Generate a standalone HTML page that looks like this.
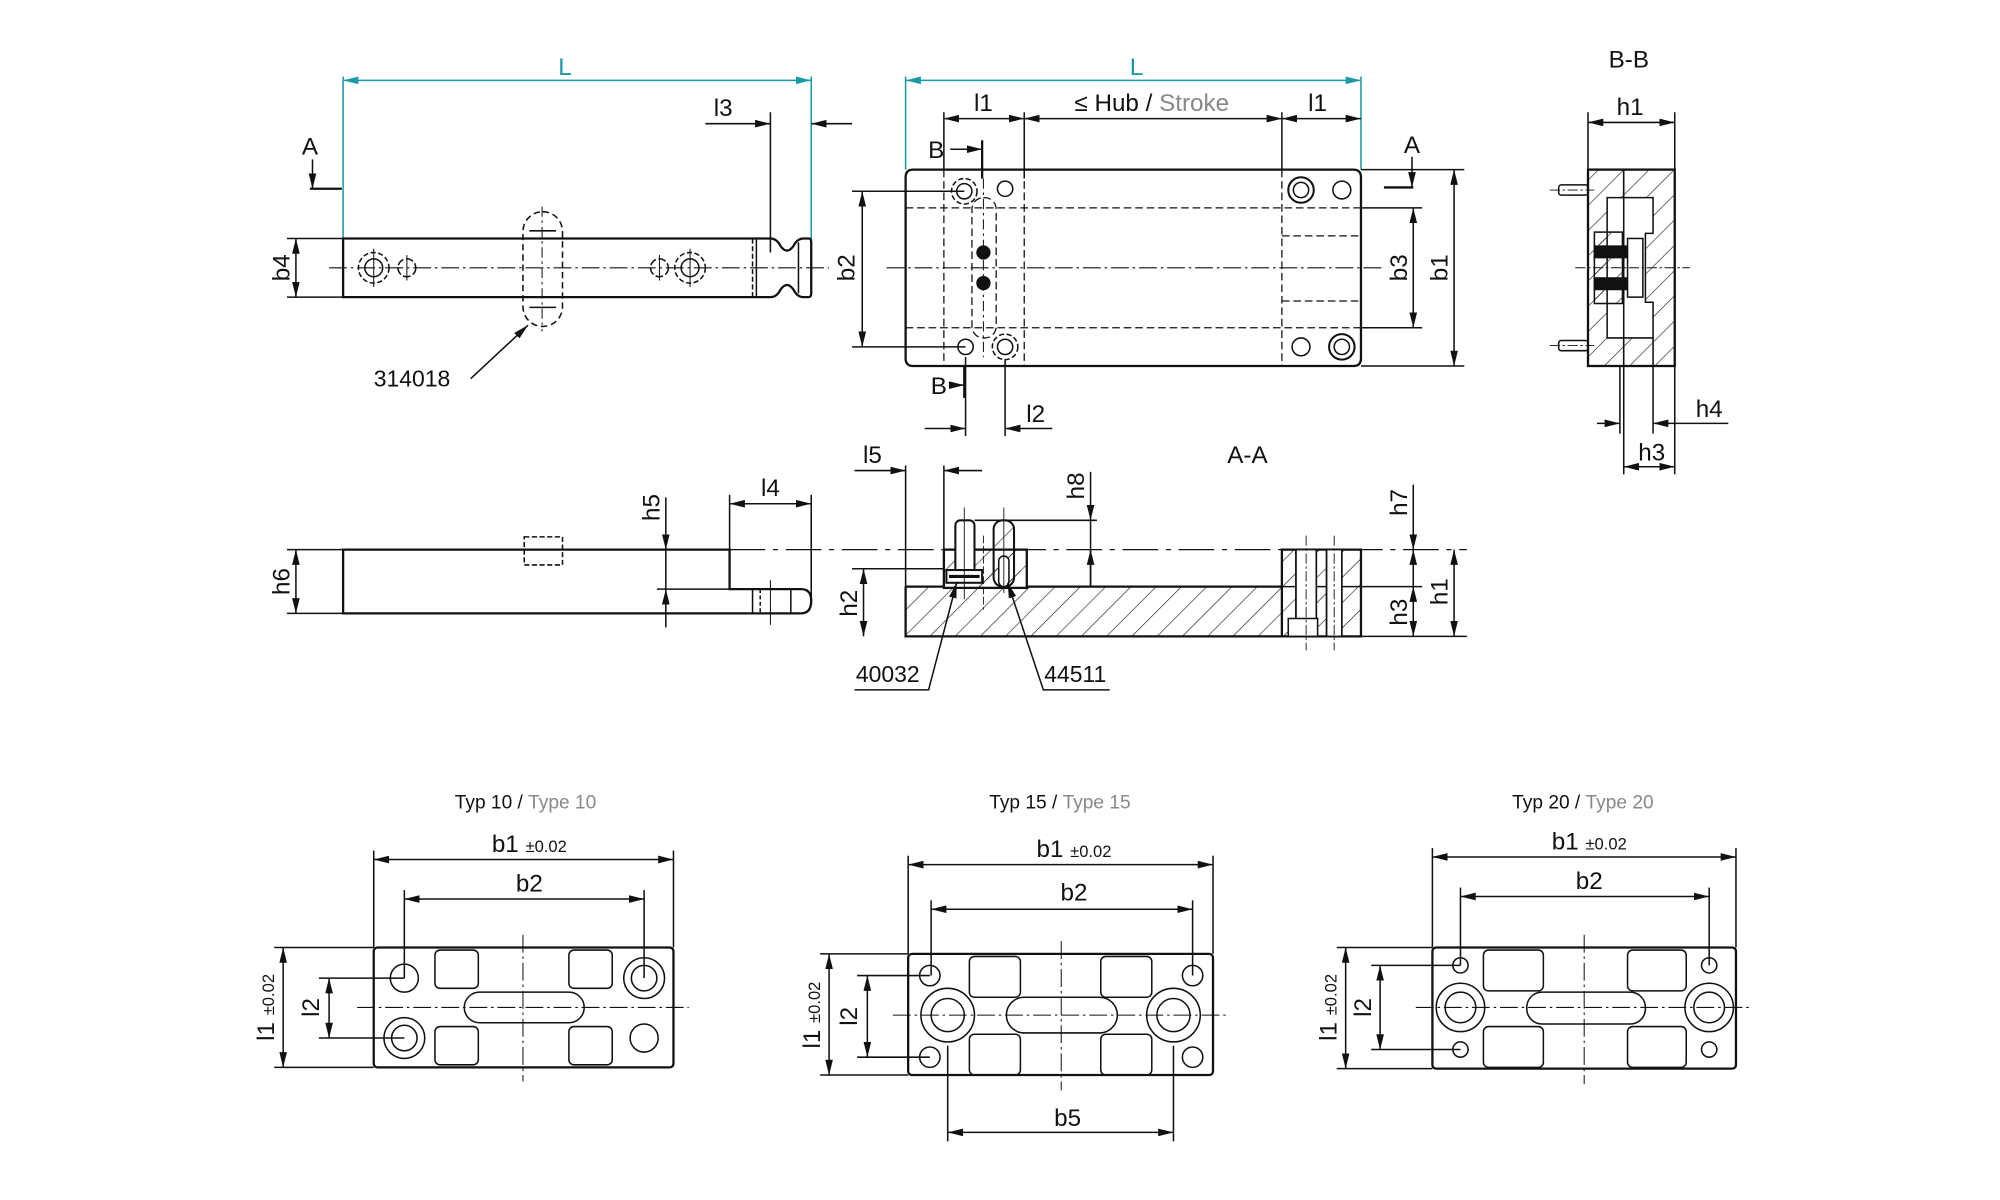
<!DOCTYPE html>
<html><head><meta charset="utf-8"><style>
html,body{margin:0;padding:0;background:#fff;}
svg{display:block;}
text{font-family:"Liberation Sans",sans-serif;fill:#111;}
</style></head><body>
<svg width="2000" height="1200" viewBox="0 0 1568 941" preserveAspectRatio="none" xmlns="http://www.w3.org/2000/svg">
<defs>
<marker id="a" viewBox="0 0 12 6" refX="12" refY="3" markerWidth="12" markerHeight="6" markerUnits="userSpaceOnUse" orient="auto-start-reverse"><path d="M0,0L12,3L0,6z" fill="#111"/></marker>
<marker id="t" viewBox="0 0 12 6" refX="12" refY="3" markerWidth="12" markerHeight="6" markerUnits="userSpaceOnUse" orient="auto-start-reverse"><path d="M0,0L12,3L0,6z" fill="#1a9aa8"/></marker>
<pattern id="h" width="14" height="14" patternUnits="userSpaceOnUse" patternTransform="rotate(45)"><line x1="0" y1="0" x2="0" y2="14" stroke="#222" stroke-width="1"/></pattern>
</defs>
<g fill="none" stroke="#111" stroke-width="1.2">

<!-- ============ TOP LEFT VIEW ============ -->
<line x1="269" y1="60" x2="269" y2="187" stroke="#1a9aa8"/>
<line x1="636" y1="60" x2="636" y2="210" stroke="#1a9aa8"/>
<line x1="269" y1="63" x2="636" y2="63" stroke="#1a9aa8" marker-start="url(#t)" marker-end="url(#t)"/>
<path d="M269,187 H604 Q609,187 612,193 Q617,200 622,193 Q625,187 630,187 H634 Q636,187 636,190 V230 Q636,233 634,233 H630 Q625,233 622,227 Q617,220 612,227 Q609,233 604,233 H269 Z" stroke-width="1.8"/>
<line x1="590" y1="187" x2="590" y2="233" stroke-dasharray="4,2"/>
<line x1="593" y1="187" x2="593" y2="233"/>
<line x1="626" y1="190" x2="626" y2="230"/>
<line x1="258" y1="210" x2="650" y2="210" stroke-dasharray="14,3,2,3" stroke-width="0.9"/>
<rect x="410" y="166" width="31" height="90" rx="15.5" stroke-dasharray="5,3"/>
<line x1="425" y1="162" x2="425" y2="260" stroke-dasharray="8,3,2,3" stroke-width="0.8"/>
<line x1="415" y1="181" x2="436" y2="181"/><line x1="415" y1="241" x2="436" y2="241"/>
<circle cx="293" cy="210" r="12" stroke-dasharray="4,2"/><circle cx="293" cy="210" r="7"/>
<circle cx="319" cy="210" r="7" stroke-dasharray="6,2"/>
<circle cx="541" cy="210" r="12" stroke-dasharray="4,2"/><circle cx="541" cy="210" r="7"/>
<circle cx="517" cy="210" r="7" stroke-dasharray="6,2"/>
<line x1="293" y1="195" x2="293" y2="225" stroke-width="0.8"/><line x1="319" y1="200" x2="319" y2="220" stroke-width="0.8"/>
<line x1="541" y1="195" x2="541" y2="225" stroke-width="0.8"/><line x1="517" y1="200" x2="517" y2="220" stroke-width="0.8"/>
<!-- l3 -->
<line x1="604" y1="88" x2="604" y2="198"/>
<line x1="553" y1="97" x2="604" y2="97" marker-end="url(#a)"/>
<line x1="668" y1="97" x2="636" y2="97" marker-end="url(#a)"/>
<!-- A marker -->
<line x1="245" y1="125" x2="245" y2="148" marker-end="url(#a)"/>
<line x1="243" y1="148" x2="268" y2="148" stroke-width="1.8"/>
<!-- b4 -->
<line x1="225" y1="187" x2="269" y2="187"/><line x1="225" y1="233" x2="269" y2="233"/>
<line x1="232" y1="187" x2="232" y2="233" marker-start="url(#a)" marker-end="url(#a)"/>
<line x1="369" y1="297" x2="414" y2="255" marker-end="url(#a)"/>

<!-- ============ TOP MIDDLE VIEW ============ -->
<line x1="710" y1="60" x2="710" y2="133" stroke="#1a9aa8"/>
<line x1="1067" y1="60" x2="1067" y2="133" stroke="#1a9aa8"/>
<line x1="710" y1="63" x2="1067" y2="63" stroke="#1a9aa8" marker-start="url(#t)" marker-end="url(#t)"/>
<line x1="740" y1="88" x2="740" y2="133"/><line x1="803" y1="88" x2="803" y2="140"/><line x1="1005" y1="88" x2="1005" y2="133"/>
<line x1="740" y1="93" x2="803" y2="93" marker-start="url(#a)" marker-end="url(#a)"/>
<line x1="803" y1="93" x2="1005" y2="93" marker-start="url(#a)" marker-end="url(#a)"/>
<line x1="1005" y1="93" x2="1067" y2="93" marker-start="url(#a)" marker-end="url(#a)"/>
<path d="M716,133 H1061 Q1067,133 1067,139 V281 Q1067,287 1061,287 H716 Q710,287 710,281 V139 Q710,133 716,133 Z" stroke-width="1.8"/>
<line x1="695" y1="210" x2="1085" y2="210" stroke-dasharray="14,3,2,3" stroke-width="0.9"/>
<g stroke-dasharray="6,3" stroke-width="1">
<line x1="710" y1="163" x2="1067" y2="163"/><line x1="710" y1="257" x2="1067" y2="257"/>
<line x1="1005" y1="185" x2="1067" y2="185"/><line x1="1005" y1="236" x2="1067" y2="236"/>
<line x1="740" y1="133" x2="740" y2="287"/><line x1="803" y1="133" x2="803" y2="287"/><line x1="1005" y1="133" x2="1005" y2="287"/>
<rect x="762" y="155" width="19" height="110" rx="9"/>
</g>
<line x1="771" y1="140" x2="771" y2="280" stroke-dasharray="8,3,2,3" stroke-width="0.8"/>
<circle cx="771" cy="198" r="5" fill="#111"/><circle cx="771" cy="222" r="5" fill="#111"/>
<circle cx="756" cy="150" r="10" stroke-dasharray="4,2"/><circle cx="756" cy="150" r="6"/>
<circle cx="788" cy="148" r="6"/>
<circle cx="757" cy="272" r="6"/>
<circle cx="788" cy="272" r="10" stroke-dasharray="4,2"/><circle cx="788" cy="272" r="6"/>
<circle cx="1020" cy="149" r="10" stroke-width="1.6"/><circle cx="1020" cy="149" r="6"/>
<circle cx="1052" cy="149" r="7"/>
<circle cx="1020" cy="272" r="7"/>
<circle cx="1052" cy="272" r="10" stroke-width="1.6"/><circle cx="1052" cy="272" r="6"/>
<!-- B markers -->
<line x1="745" y1="117" x2="770" y2="117" marker-end="url(#a)"/>
<line x1="770" y1="110" x2="770" y2="140" stroke-width="1.8"/>
<line x1="746" y1="302" x2="756" y2="302" marker-end="url(#a)"/>
<line x1="756" y1="287" x2="756" y2="312" stroke-width="1.8"/>
<!-- A right -->
<line x1="1107" y1="123" x2="1107" y2="147" marker-end="url(#a)"/>
<line x1="1085" y1="147" x2="1108" y2="147" stroke-width="1.8"/>
<!-- b2 -->
<line x1="668" y1="150" x2="756" y2="150"/><line x1="668" y1="272" x2="757" y2="272"/>
<line x1="676" y1="150" x2="676" y2="272" marker-start="url(#a)" marker-end="url(#a)"/>
<!-- b3 b1 -->
<line x1="1067" y1="163" x2="1115" y2="163"/><line x1="1067" y1="257" x2="1115" y2="257"/>
<line x1="1108" y1="163" x2="1108" y2="257" marker-start="url(#a)" marker-end="url(#a)"/>
<line x1="1067" y1="133" x2="1148" y2="133"/><line x1="1067" y1="287" x2="1148" y2="287"/>
<line x1="1140" y1="133" x2="1140" y2="287" marker-start="url(#a)" marker-end="url(#a)"/>
<!-- l2 -->
<line x1="757" y1="280" x2="757" y2="342"/><line x1="788" y1="282" x2="788" y2="342"/>
<line x1="725" y1="336" x2="757" y2="336" marker-end="url(#a)"/>
<line x1="825" y1="336" x2="788" y2="336" marker-end="url(#a)"/>

<!-- ============ B-B ============ -->
<rect x="1245" y="133" width="68" height="154" stroke-width="1.8"/>
<path d="M1273,133 H1313 V287 H1273 V265 H1296 V237 H1290 V183 H1296 V155 H1273 Z" fill="url(#h)"/>
<path d="M1245,133 H1273 V155 H1260 V265 H1273 V287 H1245 Z" fill="url(#h)"/>
<rect x="1250" y="182" width="22" height="56" fill="url(#h)"/>
<rect x="1250" y="193" width="26" height="9" fill="#111"/><rect x="1250" y="218" width="26" height="9" fill="#111"/>
<rect x="1276" y="187" width="12" height="46" fill="#fff"/>
<line x1="1273" y1="133" x2="1273" y2="287"/>
<rect x="1222" y="145" width="23" height="8" rx="2"/><rect x="1222" y="267" width="23" height="8" rx="2"/>
<line x1="1215" y1="149" x2="1250" y2="149" stroke-width="0.7" stroke-dasharray="8,2,2,2"/>
<line x1="1215" y1="271" x2="1250" y2="271" stroke-width="0.7" stroke-dasharray="8,2,2,2"/>
<line x1="1235" y1="210" x2="1325" y2="210" stroke-width="0.8" stroke-dasharray="8,2,2,2"/>
<line x1="1245" y1="88" x2="1245" y2="133"/><line x1="1313" y1="88" x2="1313" y2="133"/>
<line x1="1245" y1="96" x2="1313" y2="96" marker-start="url(#a)" marker-end="url(#a)"/>
<line x1="1270" y1="287" x2="1270" y2="340"/><line x1="1296" y1="265" x2="1296" y2="340"/>
<line x1="1273" y1="287" x2="1273" y2="372"/><line x1="1313" y1="287" x2="1313" y2="372"/>
<line x1="1252" y1="332" x2="1270" y2="332" marker-end="url(#a)"/>
<line x1="1355" y1="332" x2="1296" y2="332" marker-end="url(#a)"/>
<line x1="1273" y1="366" x2="1313" y2="366" marker-start="url(#a)" marker-end="url(#a)"/>

<!-- ============ BOTTOM LEFT SIDE ============ -->
<path d="M269,431 H572 V462 H628 Q636,462 636,471 Q636,481 628,481 H269 Z" stroke-width="1.8"/>
<line x1="590" y1="462" x2="590" y2="481"/><line x1="596" y1="462" x2="596" y2="481" stroke-dasharray="3,2"/><line x1="620" y1="462" x2="620" y2="481"/>
<line x1="604" y1="455" x2="604" y2="490" stroke-width="0.8"/>
<rect x="411" y="421" width="30" height="22" stroke-dasharray="4,2"/>
<line x1="572" y1="431" x2="1150" y2="431" stroke-dasharray="28,6,4,6" stroke-width="1"/>
<line x1="572" y1="388" x2="572" y2="431"/><line x1="636" y1="388" x2="636" y2="470"/>
<line x1="572" y1="395" x2="636" y2="395" marker-start="url(#a)" marker-end="url(#a)"/>
<line x1="515" y1="462" x2="572" y2="462"/>
<line x1="522" y1="390" x2="522" y2="431" marker-end="url(#a)"/>
<line x1="522" y1="492" x2="522" y2="462" marker-end="url(#a)"/>
<line x1="522" y1="431" x2="522" y2="462"/>
<line x1="225" y1="431" x2="269" y2="431"/><line x1="225" y1="481" x2="269" y2="481"/>
<line x1="232" y1="431" x2="232" y2="481" marker-start="url(#a)" marker-end="url(#a)"/>

<!-- ============ A-A ============ -->
<path d="M710,460 H740 V447 H805 V460 H1005 V499 H710 Z" fill="url(#h)" stroke="none"/>
<rect x="1005" y="431" width="62" height="68" fill="url(#h)" stroke="none"/>
<rect x="740" y="431" width="65" height="30" fill="url(#h)" stroke="none"/>
<path d="M710,460 H740 M805,460 H1005 M710,460 V499 H1067 V431 H1005 V499" stroke-width="1.8"/>
<rect x="740" y="431" width="65" height="30" stroke-width="1.8"/>
<line x1="1005" y1="460" x2="1067" y2="460"/>
<rect x="1016" y="431" width="16" height="68" fill="#fff"/><rect x="1040" y="431" width="12" height="68" fill="#fff"/>
<line x1="1016" y1="431" x2="1016" y2="499"/><line x1="1032" y1="431" x2="1032" y2="499"/>
<line x1="1040" y1="431" x2="1040" y2="499"/><line x1="1052" y1="431" x2="1052" y2="499"/>
<rect x="1010" y="485" width="23" height="14" fill="#fff"/>
<line x1="1024" y1="420" x2="1024" y2="510" stroke-width="0.7" stroke-dasharray="8,2,2,2"/>
<line x1="1046" y1="420" x2="1046" y2="510" stroke-width="0.7" stroke-dasharray="8,2,2,2"/>
<rect x="749" y="408" width="15" height="48" rx="4" fill="#fff" stroke-width="1.6"/>
<rect x="742" y="447" width="28" height="10" fill="#fff" stroke-width="1.6"/>
<line x1="744" y1="452" x2="768" y2="452" stroke-width="2.5"/>
<line x1="756" y1="398" x2="756" y2="470" stroke-width="0.7"/>
<rect x="779" y="408" width="16" height="52" rx="7" fill="url(#h)" stroke-width="1.6"/>
<rect x="783" y="436" width="8" height="24" rx="4" fill="#fff"/>
<line x1="787" y1="398" x2="787" y2="465" stroke-width="0.7"/>
<line x1="771" y1="420" x2="771" y2="478" stroke-width="0.7" stroke-dasharray="6,2"/>
<line x1="710" y1="365" x2="710" y2="460"/><line x1="740" y1="365" x2="740" y2="447"/>
<line x1="670" y1="369" x2="710" y2="369" marker-end="url(#a)"/>
<line x1="770" y1="369" x2="740" y2="369" marker-end="url(#a)"/>
<line x1="764" y1="408" x2="860" y2="408"/>
<line x1="855" y1="370" x2="855" y2="408" marker-end="url(#a)"/>
<line x1="855" y1="460" x2="855" y2="431" marker-end="url(#a)"/>
<line x1="855" y1="408" x2="855" y2="460"/>
<line x1="668" y1="446" x2="740" y2="446"/>
<line x1="677" y1="446" x2="677" y2="499" marker-start="url(#a)" marker-end="url(#a)"/>
<line x1="1067" y1="460" x2="1115" y2="460"/><line x1="1067" y1="499" x2="1150" y2="499"/>
<line x1="1108" y1="380" x2="1108" y2="431" marker-end="url(#a)"/>
<line x1="1108" y1="460" x2="1108" y2="499" marker-start="url(#a)" marker-end="url(#a)"/>
<line x1="1108" y1="431" x2="1108" y2="460" marker-start="url(#a)"/>
<line x1="1140" y1="431" x2="1140" y2="499" marker-start="url(#a)" marker-end="url(#a)"/>
<path d="M670,541 H728 L750,457" marker-end="url(#a)"/>
<path d="M870,541 H818 L790,457" marker-end="url(#a)"/>

<!-- ============ TYP 10 ============ -->
<rect x="293" y="743" width="235" height="94" rx="3" stroke-width="1.8"/>
<line x1="280" y1="790" x2="540" y2="790" stroke-dasharray="14,3,2,3" stroke-width="0.8"/>
<line x1="410" y1="733" x2="410" y2="848" stroke-dasharray="14,3,2,3" stroke-width="0.8"/>
<rect x="341" y="745" width="34" height="30" rx="4"/><rect x="446" y="745" width="34" height="30" rx="4"/>
<rect x="341" y="805" width="34" height="30" rx="4"/><rect x="446" y="805" width="34" height="30" rx="4"/>
<rect x="364" y="778" width="94" height="24" rx="12"/>
<circle cx="317" cy="767" r="11"/><circle cx="505" cy="814" r="11"/>
<circle cx="505" cy="767" r="16"/><circle cx="505" cy="767" r="10"/>
<circle cx="317" cy="814" r="16"/><circle cx="317" cy="814" r="10"/>
<line x1="293" y1="667" x2="293" y2="743"/><line x1="528" y1="667" x2="528" y2="743"/>
<line x1="293" y1="674" x2="528" y2="674" marker-start="url(#a)" marker-end="url(#a)"/>
<line x1="317" y1="698" x2="317" y2="767"/><line x1="505" y1="698" x2="505" y2="767"/>
<line x1="317" y1="705" x2="505" y2="705" marker-start="url(#a)" marker-end="url(#a)"/>
<line x1="215" y1="743" x2="293" y2="743"/><line x1="215" y1="837" x2="293" y2="837"/>
<line x1="222" y1="743" x2="222" y2="837" marker-start="url(#a)" marker-end="url(#a)"/>
<line x1="250" y1="767" x2="317" y2="767"/><line x1="250" y1="814" x2="317" y2="814"/>
<line x1="258" y1="767" x2="258" y2="814" marker-start="url(#a)" marker-end="url(#a)"/>

<!-- ============ TYP 15 ============ -->
<rect x="712" y="748" width="239" height="95" rx="3" stroke-width="1.8"/>
<line x1="700" y1="796" x2="962" y2="796" stroke-dasharray="14,3,2,3" stroke-width="0.8"/>
<line x1="832" y1="738" x2="832" y2="855" stroke-dasharray="14,3,2,3" stroke-width="0.8"/>
<rect x="760" y="750" width="40" height="32" rx="4"/><rect x="863" y="750" width="40" height="32" rx="4"/>
<rect x="760" y="811" width="40" height="32" rx="4"/><rect x="863" y="811" width="40" height="32" rx="4"/>
<rect x="789" y="782" width="87" height="28" rx="14"/>
<circle cx="729" cy="765" r="8"/><circle cx="935" cy="765" r="8"/><circle cx="729" cy="829" r="8"/><circle cx="935" cy="829" r="8"/>
<circle cx="743" cy="796" r="21"/><circle cx="743" cy="796" r="13"/>
<circle cx="920" cy="796" r="21"/><circle cx="920" cy="796" r="13"/>
<line x1="712" y1="671" x2="712" y2="748"/><line x1="951" y1="671" x2="951" y2="748"/>
<line x1="712" y1="678" x2="951" y2="678" marker-start="url(#a)" marker-end="url(#a)"/>
<line x1="730" y1="706" x2="730" y2="765"/><line x1="935" y1="706" x2="935" y2="765"/>
<line x1="730" y1="713" x2="935" y2="713" marker-start="url(#a)" marker-end="url(#a)"/>
<line x1="743" y1="820" x2="743" y2="895"/><line x1="920" y1="820" x2="920" y2="895"/>
<line x1="743" y1="888" x2="920" y2="888" marker-start="url(#a)" marker-end="url(#a)"/>
<line x1="643" y1="748" x2="712" y2="748"/><line x1="643" y1="843" x2="712" y2="843"/>
<line x1="650" y1="748" x2="650" y2="843" marker-start="url(#a)" marker-end="url(#a)"/>
<line x1="672" y1="765" x2="729" y2="765"/><line x1="672" y1="829" x2="729" y2="829"/>
<line x1="680" y1="765" x2="680" y2="829" marker-start="url(#a)" marker-end="url(#a)"/>

<!-- ============ TYP 20 ============ -->
<rect x="1123" y="743" width="238" height="95" rx="3" stroke-width="1.8"/>
<line x1="1110" y1="790" x2="1372" y2="790" stroke-dasharray="14,3,2,3" stroke-width="0.8"/>
<line x1="1242" y1="733" x2="1242" y2="850" stroke-dasharray="14,3,2,3" stroke-width="0.8"/>
<rect x="1163" y="745" width="47" height="32" rx="4"/><rect x="1276" y="745" width="46" height="32" rx="4"/>
<rect x="1163" y="805" width="47" height="32" rx="4"/><rect x="1276" y="805" width="46" height="32" rx="4"/>
<rect x="1197" y="778" width="93" height="25" rx="12"/>
<circle cx="1145" cy="757" r="6"/><circle cx="1340" cy="757" r="6"/><circle cx="1145" cy="823" r="6"/><circle cx="1340" cy="823" r="6"/>
<circle cx="1145" cy="790" r="19"/><circle cx="1145" cy="790" r="12"/>
<circle cx="1340" cy="790" r="19"/><circle cx="1340" cy="790" r="12"/>
<line x1="1123" y1="665" x2="1123" y2="743"/><line x1="1361" y1="665" x2="1361" y2="743"/>
<line x1="1123" y1="672" x2="1361" y2="672" marker-start="url(#a)" marker-end="url(#a)"/>
<line x1="1145" y1="696" x2="1145" y2="757"/><line x1="1340" y1="696" x2="1340" y2="757"/>
<line x1="1145" y1="703" x2="1340" y2="703" marker-start="url(#a)" marker-end="url(#a)"/>
<line x1="1048" y1="743" x2="1123" y2="743"/><line x1="1048" y1="838" x2="1123" y2="838"/>
<line x1="1055" y1="743" x2="1055" y2="838" marker-start="url(#a)" marker-end="url(#a)"/>
<line x1="1075" y1="757" x2="1145" y2="757"/><line x1="1075" y1="823" x2="1145" y2="823"/>
<line x1="1082" y1="757" x2="1082" y2="823" marker-start="url(#a)" marker-end="url(#a)"/>
</g>

<g font-size="19" text-anchor="middle">
<text x="443" y="59" style="fill:#1a9aa8">L</text>
<text x="891" y="59" style="fill:#1a9aa8">L</text>
<text x="567" y="91">l3</text>
<text x="243" y="121">A</text>
<text x="1107" y="120">A</text>
<text x="734" y="124">B</text>
<text x="736" y="309">B</text>
<text x="771" y="87">l1</text>
<text x="903" y="87">≤ Hub / <tspan style="fill:#888">Stroke</tspan></text>
<text x="1033" y="87">l1</text>
<text x="812" y="331">l2</text>
<text x="1277" y="53">B-B</text>
<text x="1278" y="90">h1</text>
<text x="1340" y="327">h4</text>
<text x="1295" y="361">h3</text>
<text x="323" y="303" font-size="18">314018</text>
<text x="604" y="389">l4</text>
<text x="684" y="363">l5</text>
<text x="978" y="363">A-A</text>
<text x="696" y="535" font-size="18">40032</text>
<text x="843" y="535" font-size="18">44511</text>
<text transform="translate(227,210) rotate(-90)">b4</text>
<text transform="translate(670,210) rotate(-90)">b2</text>
<text transform="translate(1103,210) rotate(-90)">b3</text>
<text transform="translate(1135,210) rotate(-90)">b1</text>
<text transform="translate(227,456) rotate(-90)">h6</text>
<text transform="translate(517,398) rotate(-90)">h5</text>
<text transform="translate(850,381) rotate(-90)">h8</text>
<text transform="translate(672,473) rotate(-90)">h2</text>
<text transform="translate(1103,394) rotate(-90)">h7</text>
<text transform="translate(1103,480) rotate(-90)">h3</text>
<text transform="translate(1135,464) rotate(-90)">h1</text>
</g>
<g font-size="15" text-anchor="middle">
<text x="412" y="634">Typ 10 / <tspan style="fill:#888">Type 10</tspan></text>
<text x="831" y="634">Typ 15 / <tspan style="fill:#888">Type 15</tspan></text>
<text x="1241" y="634">Typ 20 / <tspan style="fill:#888">Type 20</tspan></text>
</g>
<g font-size="19" text-anchor="middle">
<text x="415" y="668">b1 <tspan font-size="13">±0.02</tspan></text>
<text x="415" y="699">b2</text>
<text x="842" y="672">b1 <tspan font-size="13">±0.02</tspan></text>
<text x="842" y="706">b2</text>
<text x="837" y="883">b5</text>
<text x="1246" y="666">b1 <tspan font-size="13">±0.02</tspan></text>
<text x="1246" y="697">b2</text>
<text transform="translate(215,790) rotate(-90)">l1 <tspan font-size="13">±0.02</tspan></text>
<text transform="translate(250,790) rotate(-90)">l2</text>
<text transform="translate(643,796) rotate(-90)">l1 <tspan font-size="13">±0.02</tspan></text>
<text transform="translate(672,797) rotate(-90)">l2</text>
<text transform="translate(1048,790) rotate(-90)">l1 <tspan font-size="13">±0.02</tspan></text>
<text transform="translate(1075,790) rotate(-90)">l2</text>
</g>
</svg>
</body></html>
